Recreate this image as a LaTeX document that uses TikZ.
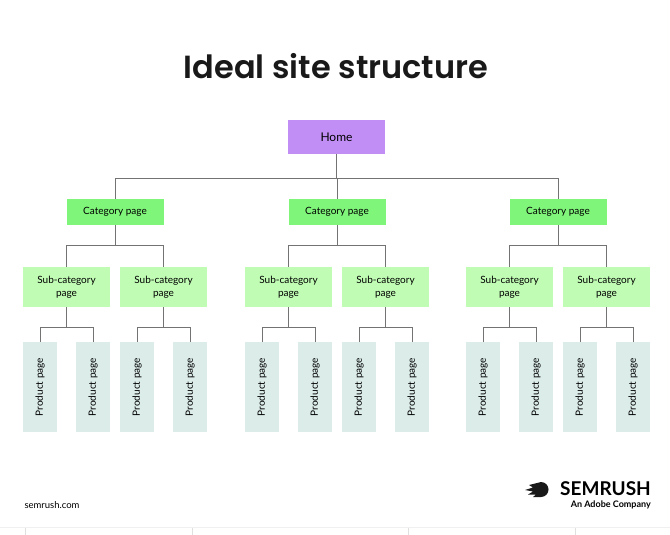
\documentclass[tikz,border=0pt]{standalone}
\usepackage{fontspec}
\setmainfont{Lato}
\newfontfamily\titlefont{Poppins}[UprightFont=* SemiBold]
\newfontfamily\labfont{Lato}
\begin{document}
\begin{tikzpicture}[x=1pt,y=-1pt,
  con/.style={draw=black!55,line width=0.9pt},
  home/.style={fill={rgb,255:red,193;green,142;blue,245},minimum width=97pt,minimum height=34pt,inner sep=0pt,font=\labfont\fontsize{12}{13}\selectfont},
  cat/.style={fill={rgb,255:red,127;green,245;blue,122},minimum width=97pt,minimum height=26pt,inner sep=0pt,font=\labfont\fontsize{10}{11}\selectfont},
  sub/.style={fill={rgb,255:red,192;green,252;blue,180},minimum width=87pt,minimum height=40pt,inner sep=0pt,align=center,font=\labfont\fontsize{10}{13}\selectfont},
  prod/.style={fill={rgb,255:red,219;green,236;blue,233},minimum width=90pt,minimum height=34pt,inner sep=0pt,rotate=90,font=\labfont\fontsize{10}{11}\selectfont}]
\useasboundingbox (0,0) rectangle (670,535);
\fill[white] (0,0) rectangle (670,535);
\node[font=\titlefont\fontsize{32}{36}\selectfont,text=black!90] (title) at (336,66) {Ideal site structure};
\node[home] (h) at (336.5,137) {Home};
\foreach \c/\cx in {1/115,2/337,3/558}{
  \node[cat] (c\c) at (\cx,212) {Category page};
  \draw[con] (h.south) |- (336.5,178) -| (c\c.north);
  \foreach \s/\so in {1/-48.5,2/48.5}{
    \node[sub] (s\c\s) at (\cx+\so,287) {Sub-category\\page};
    \draw[con] (c\c.south) |- (\cx,245) -| (s\c\s.north);
    \foreach \p/\po in {1/-26.5,2/26.5}{
      \node[prod] (p\c\s\p) at (\cx+\so+\po,387) {Product page};
      \draw[con] (s\c\s.south) |- (\cx+\so,327) -| (p\c\s\p.east);
    }
  }
}
\node[anchor=west,font=\labfont\fontsize{9.5}{11}\selectfont] (url) at (21,505) {semrush.com};
\node[anchor=east,font=\labfont\bfseries\fontsize{19}{20}\selectfont,inner sep=0pt] (logo) at (651,489) {SEMRUSH};
\node[anchor=east,font=\labfont\bfseries\fontsize{9}{10}\selectfont,inner sep=0pt] (adobe) at (651,505) {An Adobe Company};
\fill[black!90] (541,482) arc[start angle=-90,end angle=90,radius=7.5] -- (533,497) -- (536,494.5) -- (528,494.5) -- (533,491.5) -- (525,490) -- (533,487.5) -- (529,485) -- (535,483.5) -- cycle;
\foreach \tx in {25,192,408,575} \draw[black!12] (\tx,528) -- (\tx,535);
\draw[black!6] (0,527) -- (670,527);
\end{tikzpicture}
\end{document}
